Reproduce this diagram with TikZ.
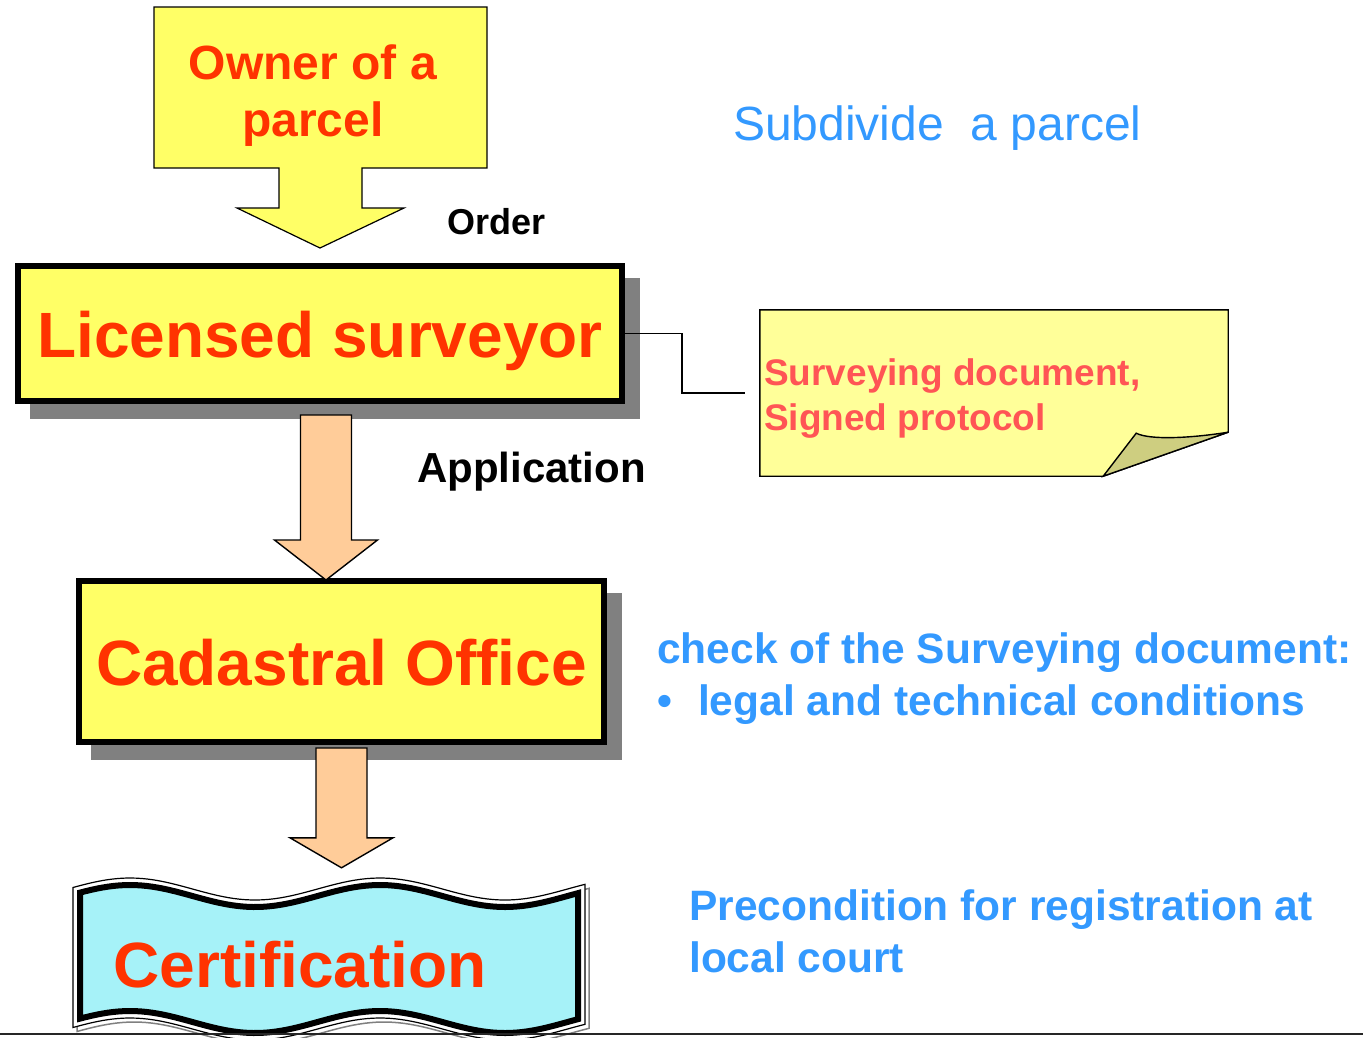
\documentclass[tikz,border=0pt]{standalone}
\usepackage{fontspec}
\setmainfont{Liberation Sans}
\usetikzlibrary{calc,backgrounds}
\definecolor{boxyellow}{RGB}{255,255,102}
\definecolor{noteyellow}{RGB}{255,255,153}
\definecolor{foldolive}{RGB}{206,206,128}
\definecolor{titlered}{RGB}{255,51,0}
\definecolor{notered}{RGB}{255,85,85}
\definecolor{infoblue}{RGB}{51,153,255}
\definecolor{arroworange}{RGB}{255,204,153}
\definecolor{certcyan}{RGB}{166,242,248}
\definecolor{shadowgray}{RGB}{128,128,128}
\newcommand\blockarr[6]{%
  \draw[#6] ($(#1)+(-#3,0)$) -- ($(#2)+(-#3,-#5)$) -- ($(#2)+(-#4,-#5)$) -- (#2)
    -- ($(#2)+(#4,-#5)$) -- ($(#2)+(#3,-#5)$) -- ($(#1)+(#3,0)$) -- cycle;}
\begin{document}
\begin{tikzpicture}[x=1pt,y=-1pt,line join=miter,
  mainbox/.style={draw=black,line width=6pt,fill=boxyellow,text=titlered,
    font=\bfseries\fontsize{64}{77}\selectfont,text height=47pt,text depth=0pt,inner sep=0pt},
  flowarrow/.style={draw=black,line width=1.4pt,fill=arroworange},
  lbl/.style={inner sep=0pt,font=\bfseries\fontsize{42}{52}\selectfont,text=black},
  info/.style={inner sep=0pt,font=\bfseries\fontsize{42.5}{52}\selectfont,text=infoblue}]
\clip (0,0) rectangle (1363,1037);

% main boxes
\node[mainbox,minimum width=604pt,minimum height=135pt] (ls) at (320,333.5) {Licensed surveyor};
\node[mainbox,minimum width=525pt,minimum height=161pt] (cad) at (341.5,661.5) {Cadastral Office};
\begin{scope}[on background layer]
  \fill[white] (0,0) rectangle (1363,1037);
  \fill[shadowgray] ($(ls.south west)+(15,15)$) rectangle ($(ls.north east)+(15,15)$);
  \fill[shadowgray] ($(cad.south west)+(15,15)$) rectangle ($(cad.north east)+(15,15)$);
\end{scope}

% owner callout with arrow
\coordinate (otip) at ($(ls.north)+(0,-15)$);
\draw[line width=1.2pt,fill=boxyellow] (154,7) -- (487,7) -- (487,168) -- (362,168) -- (362,208)
  -- (404,208) -- (otip) -- (237,208) -- (279,208) -- (279,168) -- (154,168) -- cycle;
\node[anchor=north,align=center,inner sep=0pt,text=titlered,
  font=\bfseries\fontsize{48}{57}\selectfont] (owner) at (313,45) {Owner of a\\parcel};
\node[lbl,font=\bfseries\fontsize{36}{43}\selectfont,anchor=base west] (order) at (447,234) {Order};

% certification banner
\node[minimum width=512pt,minimum height=154pt,inner sep=0pt] (cert) at (329,957) {};
\path[draw=shadowgray,line width=1.5pt,shift={(4,4)}]
  plot[domain=73:585,samples=90] (\x,{889-11*cos(1.44*(\x-130))})
  -- plot[domain=585:73,samples=90] (\x,{1029-11*cos(1.44*(\x-130))}) -- cycle;
\path[draw=black,line width=1.2pt,fill=white]
  plot[domain=73:585,samples=90] (\x,{889-11*cos(1.44*(\x-130))})
  -- plot[domain=585:73,samples=90] (\x,{1029-11*cos(1.44*(\x-130))}) -- cycle;
\path[draw=black,line width=6pt,fill=certcyan]
  plot[domain=80:578,samples=90] (\x,{896-11*cos(1.44*(\x-130))})
  -- plot[domain=578:80,samples=90] (\x,{1022-11*cos(1.44*(\x-130))}) -- cycle;
\node[anchor=base,inner sep=0pt,text=titlered,font=\bfseries\fontsize{64}{77}\selectfont]
  (certtext) at (300,987) {Certification};

% flow arrows
\coordinate (a2s) at ($(ls.south)+(6,11)$);
\coordinate (a2t) at ($(a2s |- cad.north)+(0,2)$);
\blockarr{a2s}{a2t}{25.5}{51.5}{40}{flowarrow}
\coordinate (a3s) at ($(cad.south)+(0,3)$);
\coordinate (a3t) at ($(a3s |- cert.north)+(0,-12)$);
\blockarr{a3s}{a3t}{25.5}{51.5}{30}{flowarrow}
\node[lbl,anchor=base west] (appl) at (417,482) {Application};

% note with folded corner
\node[minimum width=468pt,minimum height=166pt,inner sep=0pt] (note) at (994,393) {};
\draw[line width=1.4pt,fill=noteyellow] (note.north west) -- (note.north east)
  -- ($(note.south east)+(0,-44)$) -- ($(note.south east)+(-125,0)$) -- (note.south west) -- cycle;
\draw[line width=1.4pt,fill=foldolive] ($(note.south east)+(0,-44)$)
  .. controls ($(note.south east)+(-38,-38)$) and ($(note.south east)+(-78,-36)$) .. ($(note.south east)+(-92,-43)$)
  -- ($(note.south east)+(-125,0)$) -- cycle;
\node[anchor=north west,align=left,inner sep=0pt,text=notered,
  font=\bfseries\fontsize{37}{45}\selectfont] (notetext) at (764,358) {Surveying document,\\Signed protocol};
\draw[line width=1.3pt,shorten >=15pt] (ls.east) -- ++(57,0) |- (note.west);

% right-hand texts
\node[anchor=base west,inner sep=0pt,text=infoblue,font=\fontsize{48}{57}\selectfont]
  (title) at (733,140) {Subdivide\ \ a parcel};
\node[info,anchor=base west] (check) at (657,663) {check of the Surveying document:};
\node[info,anchor=base west] (cond) at (657,715) {\makebox[41pt][l]{\textbullet}legal and technical conditions};
\node[info,anchor=north west,align=left] (precond) at (689,889) {Precondition for registration at\\local court};

% bottom rule
\draw[line width=1.2pt,black!85] (0,1034) -- (1363,1034);
\end{tikzpicture}
\end{document}
